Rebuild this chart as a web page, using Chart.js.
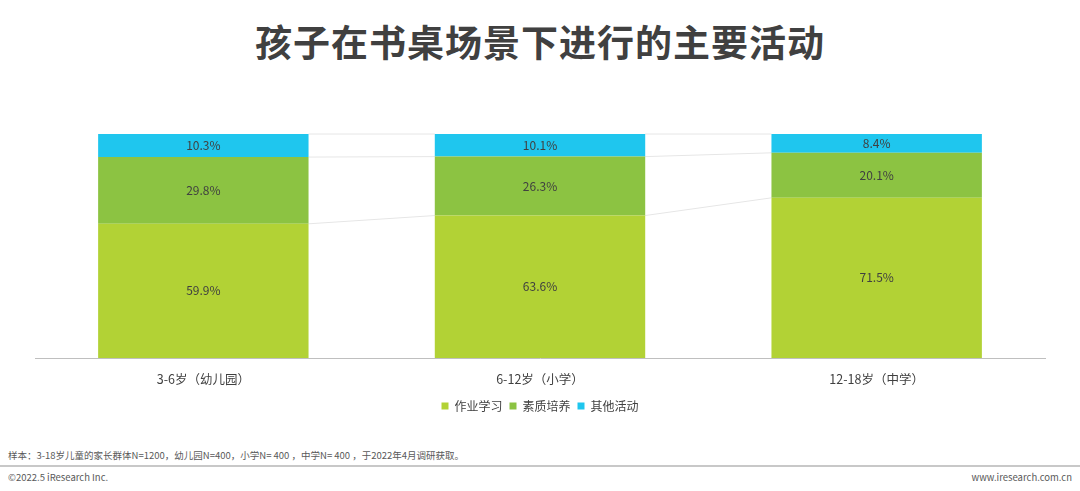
<!DOCTYPE html>
<html><head><meta charset="utf-8">
<script src="https://cdn.jsdelivr.net/npm/chart.js@4"></script>
<style>
body{margin:0;width:1080px;height:491px;background:#fff;font-family:"Noto Sans CJK SC","Noto Sans",sans-serif;position:relative;overflow:hidden}
#title{position:absolute;top:14px;left:0;width:1080px;text-align:center;font-size:37px;font-weight:bold;color:#404040;letter-spacing:1px}
#wrap{position:absolute;left:0;top:110px;width:1080px;height:312px}
.note{position:absolute;font-size:9.5px;color:#595959}
#rule{position:absolute;left:0;top:465px;width:1080px;height:2px;background:#c8c8c8}
</style></head><body>
<div id="title">孩子在书桌场景下进行的主要活动</div>
<div id="wrap"><canvas id="c"></canvas></div>
<div class="note" style="left:8px;top:448px">样本：3-18岁儿童的家长群体N=1200，幼儿园N=400，小学N= 400 ，中学N= 400 ，于2022年4月调研获取。</div>
<div id="rule"></div>
<div class="note" style="left:8px;top:470px">©2022.5 iResearch Inc.</div>
<div class="note" style="right:8px;top:470px">www.iresearch.com.cn</div>
<script>
const categories = ['3-6岁（幼儿园）', '6-12岁（小学）', '12-18岁（中学）'];
const homework = [59.9, 63.6, 71.5];
const quality = [29.8, 26.3, 20.1];
const other = [10.3, 10.1, 8.4];
const seriesNames = ['作业学习', '素质培养', '其他活动'];
const colors = ['#b2d235', '#8cc342', '#1fc6ee'];

// faint connector lines between stacked segment tops
const connectors = {
  id: 'connectors',
  beforeDatasetsDraw(chart) {
    const ctx = chart.ctx;
    ctx.save();
    ctx.strokeStyle = '#e6e6e6';
    ctx.lineWidth = 1;
    chart.data.datasets.forEach((ds, i) => {
      const bars = chart.getDatasetMeta(i).data;
      for (let j = 0; j < bars.length - 1; j++) {
        const a = bars[j], b = bars[j + 1];
        ctx.beginPath();
        ctx.moveTo(a.x + a.width / 2, a.y);
        ctx.lineTo(b.x - b.width / 2, b.y);
        ctx.stroke();
      }
    });
    ctx.restore();
  }
};
const labels = {
  id: 'labels',
  afterDatasetsDraw(chart) {
    const ctx = chart.ctx;
    ctx.save();
    ctx.fillStyle = '#404040';
    ctx.font = '12px "Noto Sans CJK SC", sans-serif';
    ctx.textAlign = 'center';
    ctx.textBaseline = 'middle';
    chart.data.datasets.forEach((ds, i) => {
      chart.getDatasetMeta(i).data.forEach((bar, j) => {
        ctx.fillText(ds.data[j].toFixed(1) + '%', bar.x, (bar.y + bar.base) / 2);
      });
    });
    ctx.restore();
  }
};

new Chart(document.getElementById('c'), {
  type: 'bar',
  data: {
    labels: categories,
    datasets: [homework, quality, other].map((d, i) => ({
      label: seriesNames[i], data: d, backgroundColor: colors[i],
      barPercentage: 0.625, categoryPercentage: 1
    }))
  },
  options: {
    responsive: true, maintainAspectRatio: false, animation: false,
    layout: { padding: { left: 35, right: 35, top: 24 } },
    scales: {
      x: { stacked: true, grid: { display: false }, border: { color: '#bfbfbf' },
        ticks: { color: '#404040', font: { size: 12.5, family: '"Noto Sans CJK SC"' }, padding: 6 } },
      y: { stacked: true, display: false, min: 0, max: 100 }
    },
    plugins: {
      legend: { position: 'bottom', labels: { boxWidth: 7, boxHeight: 7, color: '#404040', padding: 7,
        font: { size: 12, family: '"Noto Sans CJK SC"' } } },
      tooltip: { enabled: false }
    }
  },
  plugins: [connectors, labels]
});
</script>
</body></html>
